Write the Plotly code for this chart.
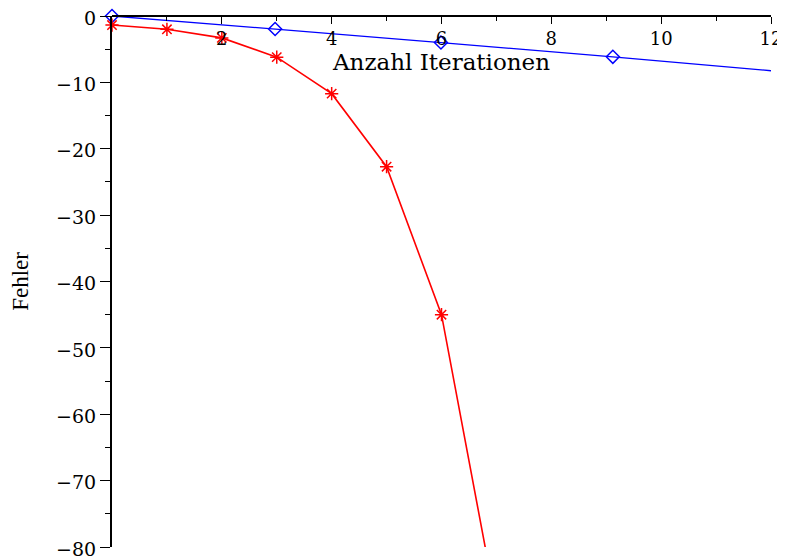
import plotly.graph_objects as go

# Data
red_x = [0, 1, 2, 3, 4, 5, 6, 7]
red_y = [-1.36, -2.0, -3.3, -6.2, -11.7, -22.7, -45.0, -89.0]
blue_x = [0, 2.97, 5.99, 9.12, 12.0]
blue_y = [0, -1.95, -4.0, -6.15, -8.25]
x_ticks = [2, 4, 6, 8, 10, 12]
y_ticks = [0, -10, -20, -30, -40, -50, -60, -70, -80]

fig = go.Figure()
# lines (clipped)
fig.add_trace(go.Scatter(x=blue_x, y=blue_y, mode="lines",
                         line=dict(color="#0000ff", width=1.3), showlegend=False))
fig.add_trace(go.Scatter(x=red_x, y=red_y, mode="lines",
                         line=dict(color="#ff0000", width=1.6), showlegend=False))
# markers (not clipped)
fig.add_trace(go.Scatter(x=blue_x[:4], y=blue_y[:4], mode="markers", cliponaxis=False,
                         marker=dict(symbol="diamond-open", size=10, color="#0000ff",
                                     line=dict(width=1.5, color="#0000ff")),
                         showlegend=False))
fig.add_trace(go.Scatter(x=red_x[:7], y=red_y[:7], mode="markers", cliponaxis=False,
                         marker=dict(symbol="asterisk-open", size=11, color="#ff0000",
                                     line=dict(width=1.5, color="#ff0000")),
                         showlegend=False))

fig.update_layout(
    width=777, height=551,
    margin=dict(l=104, r=14, t=8, b=12),
    plot_bgcolor="white", paper_bgcolor="white",
    font=dict(family="DejaVu Serif", size=18, color="black"),
    xaxis=dict(range=[0, 12], tickvals=x_ticks, ticktext=[str(v) for v in x_ticks],
               automargin=False, ticklabeloverflow="allow",
               showgrid=False, zeroline=False, showline=True, linecolor="black", linewidth=1.5,
               ticks="outside", ticklen=7, tickwidth=1.2, tickcolor="black",
               minor=dict(tickvals=[1, 3, 5, 7, 9, 11], ticks="outside", ticklen=4,
                          tickcolor="black", tickwidth=1.2),
               anchor="free", position=1, side="bottom",
               title=dict(text="Anzahl Iterationen", standoff=4,
                          font=dict(family="DejaVu Serif", size=23))),
    yaxis=dict(range=[-80, 0], tickvals=y_ticks, ticktext=["0"] + ["\u2212" + str(-v) for v in y_ticks[1:]],
               automargin=False, ticklabeloverflow="allow", ticklabelshift=2,
               showgrid=False, zeroline=False, showline=True, linecolor="black", linewidth=2,
               ticks="outside", ticklen=10, tickwidth=1.2, tickcolor="black",
               minor=dict(tickvals=[-5, -15, -25, -35, -45, -55, -65, -75], ticks="outside",
                          ticklen=5, tickcolor="black", tickwidth=1.2),
               tickfont=dict(size=19),
               title=dict(text="Fehler", standoff=21,
                          font=dict(family="Liberation Serif", size=23))),
)
fig.write_html("out.html")
